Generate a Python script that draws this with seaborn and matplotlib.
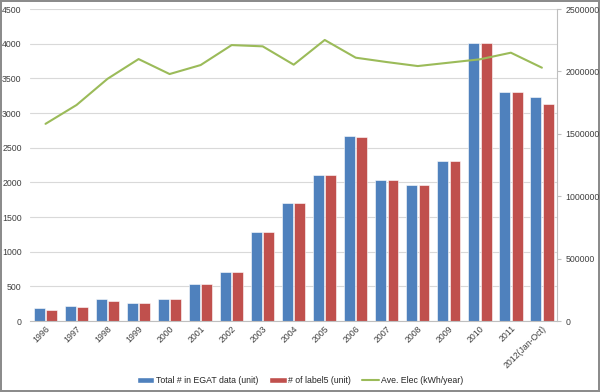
import matplotlib
matplotlib.use("Agg")
import pandas as pd
import seaborn as sns
from matplotlib import pyplot as plt
from matplotlib.patches import Patch
from matplotlib.lines import Line2D
from matplotlib.ticker import FuncFormatter

years = ["1996", "1997", "1998", "1999", "2000", "2001", "2002", "2003", "2004",
         "2005", "2006", "2007", "2008", "2009", "2010", "2011", "2012(Jan-Oct)"]
total_egat = [192, 216, 313, 260, 322, 529, 702, 1288, 1697,
              2106, 2668, 2034, 1962, 2308, 4005, 3307, 3226]
label5 = [158, 197, 284, 260, 322, 529, 702, 1288, 1697,
          2100, 2649, 2034, 1962, 2308, 4005, 3307, 3134]
ave_elec = [1580000, 1731000, 1941000, 2099000, 1979000, 2051000, 2211000, 2201000, 2054000,
            2252000, 2110000, 2075000, 2043000, 2070000, 2097000, 2150000, 2030000]

series_names = ["Total # in EGAT data (unit)", "# of label5 (unit)", "Ave. Elec (kWh/year)"]
blue, red, green = "#4F81BD", "#C0504D", "#9BBB59"

sns.set_style("white")
plt.rcParams['font.family'] = ['Liberation Sans', 'DejaVu Sans']
fs = 6.3

bars_df = pd.DataFrame({
    "year": years * 2,
    "count": total_egat + label5,
    "series": [series_names[0]] * len(years) + [series_names[1]] * len(years),
})
line_df = pd.DataFrame({"year": years, "elec": ave_elec})

fig = plt.figure(figsize=(6.0, 3.92), dpi=100)
fig.patch.set_edgecolor("#8C8C8C")
fig.patch.set_linewidth(1.5)
ax = fig.add_axes([0.05, 0.181, 0.879, 0.796])

sns.barplot(data=bars_df, x="year", y="count", hue="series", palette=[blue, red],
            saturation=1, width=0.8, gap=0.12, edgecolor="white", linewidth=0.4,
            ax=ax, legend=False)
ax.set_ylim(0, 4500)
ax.set_yticks(range(0, 4501, 500))
ax.set_xlim(-0.5, len(years) - 0.5)
ax.grid(axis="y", color="#D9D9D9", linewidth=0.8)
ax.set_axisbelow(True)
ax.set_xlabel("")
ax.set_ylabel("")
for side in ["left", "top", "right"]:
    ax.spines[side].set_visible(False)
ax.spines["bottom"].set_color("#BFBFBF")
ax.tick_params(axis="y", labelsize=fs, colors="#404040", length=0, pad=6)
ax.tick_params(axis="x", labelsize=fs, colors="#404040", length=0, pad=2)
plt.setp(ax.get_xticklabels(), rotation=45, ha="right", rotation_mode="anchor")

ax2 = ax.twinx()
sns.lineplot(data=line_df, x="year", y="elec", color=green, linewidth=1.5, ax=ax2, sort=False)
ax2.set_ylim(0, 2500000)
ax2.set_yticks(range(0, 2500001, 500000))
ax2.yaxis.set_major_formatter(FuncFormatter(lambda v, p: f"{int(v)}"))
ax2.set_ylabel("")
ax2.set_xlabel("")
for side in ["left", "top", "bottom"]:
    ax2.spines[side].set_visible(False)
ax2.spines["right"].set_color("#BFBFBF")
ax2.tick_params(axis="y", labelsize=fs, colors="#404040", length=3, direction="out", pad=3)
ax2.tick_params(axis="y", color="#BFBFBF")

handles = [Patch(facecolor=blue, edgecolor="white"),
           Patch(facecolor=red, edgecolor="white"),
           Line2D([0], [0], color=green, linewidth=1.5)]
fig.legend(handles, series_names, loc="center", bbox_to_anchor=(0.5, 0.03), ncol=3,
           frameon=False, fontsize=fs, handlelength=2.0, handleheight=0.7,
           columnspacing=1.2, handletextpad=0.2)

fig.savefig("out.png", dpi=100, edgecolor=fig.patch.get_edgecolor())
